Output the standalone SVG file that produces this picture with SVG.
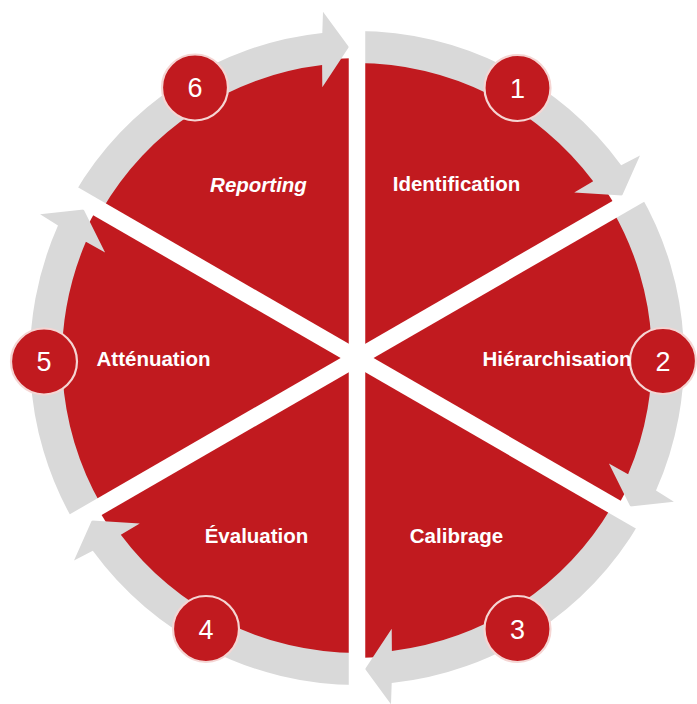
<svg xmlns="http://www.w3.org/2000/svg" width="697" height="704" viewBox="0 0 697 704">
<style>
.seg{fill:#C11A1F}
.arrow{fill:#D9D9D9}
.gap{stroke:#FFFFFF;stroke-width:16.5;fill:none}
.badge{fill:#C11A1F;stroke:#F5D5D3;stroke-width:2.2}
.num{font-family:"Liberation Sans",Arial,sans-serif;font-size:27px;fill:#FFFFFF;text-anchor:middle}
.lbl{font-family:"Liberation Sans",Arial,sans-serif;font-size:20.5px;font-weight:bold;fill:#FFFFFF;text-anchor:middle}
</style>
<rect width="697" height="704" fill="#FFFFFF"/>
<g id="segments">
<path id="seg-1" class="seg" d="M357,358 L357,58 A300,300 0 0 1 616.8,208 Z"/>
<path id="seg-2" class="seg" d="M357,358 L616.8,208 A300,300 0 0 1 616.8,508 Z"/>
<path id="seg-3" class="seg" d="M357,358 L616.8,508 A300,300 0 0 1 357,658 Z"/>
<path id="seg-4" class="seg" d="M357,358 L357,658 A300,300 0 0 1 97.2,508 Z"/>
<path id="seg-5" class="seg" d="M357,358 L97.2,508 A300,300 0 0 1 97.2,208 Z"/>
<path id="seg-6" class="seg" d="M357,358 L97.2,208 A300,300 0 0 1 357,58 Z"/>
</g>
<g id="connectors">
<path id="arrow-1-2" class="arrow" d="M357,63 A295,295 0 0 1 593.2,181.3 L574.2,192.6 L622.2,195.5 L640,155.4 L621.2,165.3 A327,327 0 0 0 357,31 Z"/>
<path id="arrow-2-3" class="arrow" d="M612.5,210.5 A295,295 0 0 1 628.1,474.2 L608.9,463.4 L630.3,506.4 L673.9,501.8 L656,490.5 A327,327 0 0 0 640.2,194.5 Z"/>
<path id="arrow-3-4" class="arrow" d="M612.5,505.5 A295,295 0 0 1 391.9,650.9 L391.7,628.8 L365.1,668.9 L391,704.3 L391.7,683.1 A327,327 0 0 0 640.2,521.5 Z"/>
<path id="arrow-4-5" class="arrow" d="M357,653 A295,295 0 0 1 120.8,534.7 L139.8,523.4 L91.8,520.5 L74,560.6 L92.8,550.7 A327,327 0 0 0 357,685 Z"/>
<path id="arrow-5-6" class="arrow" d="M101.5,505.5 A295,295 0 0 1 85.9,241.8 L105.1,252.6 L83.7,209.6 L40.1,214.2 L58,225.5 A327,327 0 0 0 73.8,521.5 Z"/>
<path id="arrow-6-1" class="arrow" d="M101.5,210.5 A295,295 0 0 1 322.1,65.1 L322.3,87.2 L348.9,47.1 L323,11.7 L322.3,32.9 A327,327 0 0 0 73.8,194.5 Z"/>
</g>
<g id="separators">
<line class="gap" x1="357" y1="-10" x2="357" y2="714"/>
<line class="gap" x1="-76" y1="108" x2="790" y2="608"/>
<line class="gap" x1="-76" y1="608" x2="790" y2="108"/>
</g>
<g id="node-1">
<circle class="badge" cx="517.5" cy="88" r="33"/>
<text class="num" x="517.5" y="97.5">1</text>
<text class="lbl" x="456.5" y="191">Identification</text>
</g>
<g id="node-2">
<circle class="badge" cx="663" cy="361" r="33"/>
<text class="num" x="663" y="370.5">2</text>
<text class="lbl" x="557" y="366">Hiérarchisation</text>
</g>
<g id="node-3">
<circle class="badge" cx="517.5" cy="629" r="33"/>
<text class="num" x="517.5" y="638.5">3</text>
<text class="lbl" x="456.5" y="543">Calibrage</text>
</g>
<g id="node-4">
<circle class="badge" cx="206" cy="629" r="33"/>
<text class="num" x="206" y="638.5">4</text>
<text class="lbl" x="256.5" y="543">Évaluation</text>
</g>
<g id="node-5">
<circle class="badge" cx="44" cy="361.5" r="33"/>
<text class="num" x="44" y="371">5</text>
<text class="lbl" x="153.5" y="366">Atténuation</text>
</g>
<g id="node-6">
<circle class="badge" cx="195" cy="87.5" r="33"/>
<text class="num" x="195" y="97">6</text>
<text class="lbl" x="258.5" y="192" font-style="italic">Reporting</text>
</g>
</svg>
